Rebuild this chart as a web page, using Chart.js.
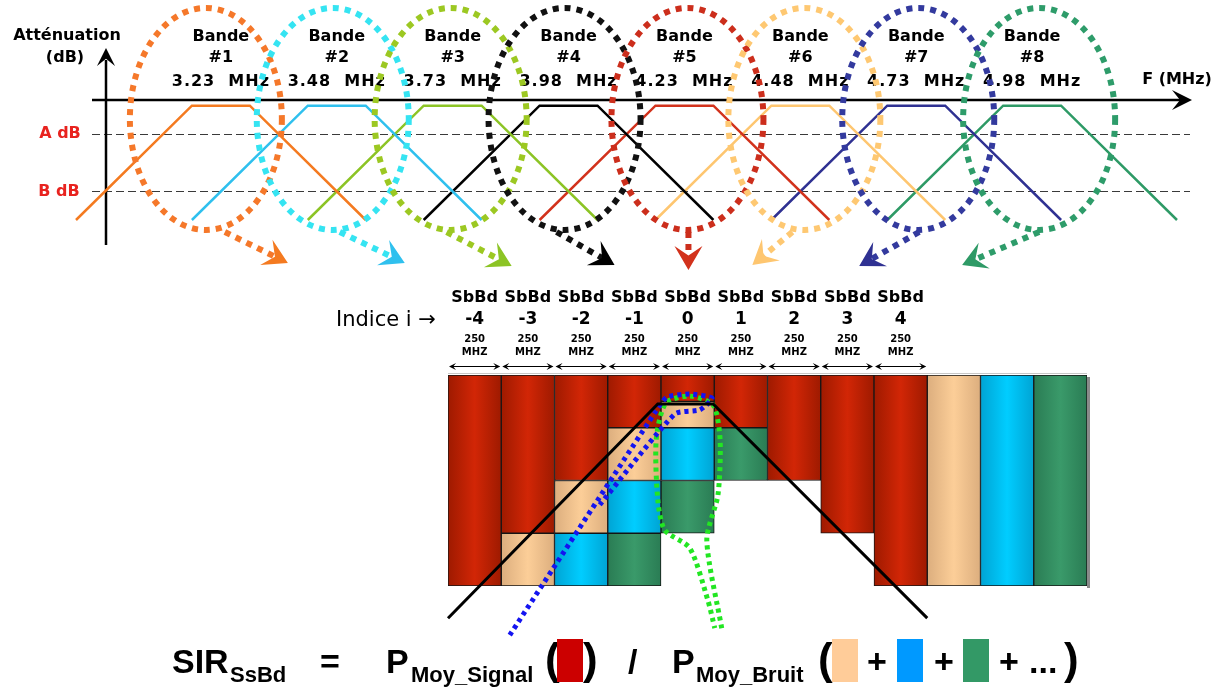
<!DOCTYPE html>
<html>
<head>
<meta charset="utf-8">
<script src="https://cdn.jsdelivr.net/npm/chart.js"></script>
<style>
html, body { margin: 0; padding: 0; background: #fff; }
#wrap { position: relative; width: 1227px; height: 688px; overflow: hidden; }
canvas { position: absolute; left: 0; top: 0; }
.f { position: absolute; font-family: 'Liberation Sans', Arial, sans-serif; font-weight: bold; white-space: nowrap; color: #000; }
.big { font-size: 34px; line-height: 34px; top: 644px; }
.sub { font-size: 22px; line-height: 22px; top: 664px; }
.par { font-size: 44px; line-height: 44px; top: 637px; }
.box { position: absolute; top: 639px; width: 26px; height: 43px; }
</style>
</head>
<body>
<div id="wrap">
<canvas id="bands" width="1227" height="688"></canvas>
<canvas id="subbands" width="1227" height="688"></canvas>

<div class="f big" style="left:172px">SIR</div>
<div class="f sub" style="left:230px">SsBd</div>
<div class="f big" style="left:320px">=</div>
<div class="f big" style="left:386px">P</div>
<div class="f sub" style="left:411px">Moy_Signal</div>
<div class="f par" style="left:545px">(</div>
<div class="box" style="left:557px;background:#cc0000"></div>
<div class="f par" style="left:583px">)</div>
<div class="f big" style="left:628px">/</div>
<div class="f big" style="left:672px">P</div>
<div class="f sub" style="left:696px">Moy_Bruit</div>
<div class="f par" style="left:818px">(</div>
<div class="box" style="left:832px;background:#ffcc99"></div>
<div class="f big" style="left:867px">+</div>
<div class="box" style="left:897px;background:#0099ff"></div>
<div class="f big" style="left:934px">+</div>
<div class="box" style="left:963px;background:#339966"></div>
<div class="f big" style="left:999px">+</div>
<div class="f big" style="left:1029px">...</div>
<div class="f par" style="left:1064px">)</div>
</div>

<script>
// ---- filter bank (top) ----
const bandNames = ['#1', '#2', '#3', '#4', '#5', '#6', '#7', '#8'];
const bandCenters = [3.23, 3.48, 3.73, 3.98, 4.23, 4.48, 4.73, 4.98]; // MHz
const filterOffsets = [-0.3125, -0.0625, 0.0625, 0.3125]; // MHz from band centre
const filterLevels = [-21, -1, -1, -21]; // dB
const levelA = -6;
const levelB = -16;

const bandColors = ['#f47a20', '#2fc0ee', '#8cc425', '#000000', '#d2321c', '#fec670', '#2f3192', '#2e9a66'];
const ringColors = ['#f5782a', '#35e4f2', '#9cc822', '#111111', '#cc2e1c', '#fec872', '#333a9e', '#2e9c6a'];

// ---- sub-bands (bottom) ----
const subBandLabels = ['-4', '-3', '-2', '-1', '0', '1', '2', '3', '4', '', '', ''];
const subBandWidth = ['250', 'MHZ'];
const signalPower = [4, 3, 2, 1, 0.5, 1, 2, 3, 4, null, null, null];
const noiseTan = [null, 1, 1, 1, 0.5, null, null, null, null, 4, null, null];
const noiseBlue = [null, null, 1, 1, 1, null, null, null, null, null, 4, null];
const noiseGreen = [null, null, null, 1, 1, 1, null, null, null, null, null, 4];

const filterX = [-0.5, 3.44, 4.48, 8.5];
const filterY = [4.61, 0.55, 0.55, 4.61];
const blueLoopX = [0.66, 3.42, 3.61, 4.04, 4.46, 4.23, 3.76, 2.35];
const blueLoopY = [4.93, 0.66, 0.42, 0.36, 0.44, 0.66, 0.74, 2.46];
const greenLoopX = [4.64, 4.36, 4.57, 4.61, 4.48, 4.04, 3.59, 3.41, 3.44, 3.57, 4.04, 4.38, 4.51];
const greenLoopY = [4.8, 3.13, 2.27, 1.23, 0.57, 0.4, 0.53, 1.23, 2.37, 2.94, 3.28, 4.27, 4.8];

function arrowHead(ctx, tx, ty, dx, dy, len, half, color) {
    const l = Math.hypot(dx, dy);
    const ux = dx / l, uy = dy / l, nx = -uy, ny = ux;
    ctx.fillStyle = color;
    ctx.beginPath();
    ctx.moveTo(tx, ty);
    ctx.lineTo(tx - ux * len + nx * half, ty - uy * len + ny * half);
    ctx.lineTo(tx - ux * len * 0.6, ty - uy * len * 0.6);
    ctx.lineTo(tx - ux * len - nx * half, ty - uy * len - ny * half);
    ctx.closePath();
    ctx.fill();
}

// per-band tweaks of the dotted rings / arrows (pixels)
const ringShift = [-15, -4, -2, -4, 3, 4, 2, 7];
const arrowStart = [4, 3, -6, -12, 4, -8, 3, 7];
const arrowTip = [67, 68, 59, 46, 4, -48, -57, -70];
const arrowTipY = [263, 263, 266, 265, 270, 265, 266, 265];

const bandDecor = {
    id: 'bandDecor',
    beforeDatasetsDraw(chart) {
        const ctx = chart.ctx, ca = chart.chartArea;
        const x = chart.scales.x, y = chart.scales.y;
        ctx.save();
        // A / B levels
        ctx.strokeStyle = '#3a3a3a';
        ctx.lineWidth = 1.2;
        ctx.setLineDash([8, 4]);
        [levelA, levelB].forEach(function (v) {
            const py = Math.round(y.getPixelForValue(v)) + 0.5;
            ctx.beginPath();
            ctx.moveTo(ca.left + 16, py);
            ctx.lineTo(ca.right + 13, py);
            ctx.stroke();
        });
        ctx.setLineDash([]);

        // axes
        const oy = y.getPixelForValue(0);
        const ox = ca.left + 30;
        ctx.strokeStyle = '#000';
        ctx.lineWidth = 2.5;
        ctx.beginPath();
        ctx.moveTo(ca.left + 16, oy);
        ctx.lineTo(ca.right + 5, oy);
        ctx.moveTo(ox, 245);
        ctx.lineTo(ox, 60);
        ctx.stroke();
        arrowHead(ctx, ca.right + 15, oy, 1, 0, 20, 10, '#000');
        arrowHead(ctx, ox, 48, 0, -1, 18, 9, '#000');

        // texts
        ctx.fillStyle = '#000';
        ctx.textAlign = 'center';
        ctx.textBaseline = 'middle';
        ctx.font = 'bold 16px "DejaVu Sans"';
        ctx.fillText('Atténuation', 67, 36);
        ctx.fillText('(dB)', 65, 58);
        ctx.fillText('F (MHz)', 1177, 80);
        ctx.fillStyle = '#e8231f';
        ctx.fillText('A dB', 60, y.getPixelForValue(levelA));
        ctx.fillText('B dB', 59, y.getPixelForValue(levelB));

        ctx.fillStyle = '#000';
        bandCenters.forEach(function (c, i) {
            const px = x.getPixelForValue(c);
            ctx.font = 'bold 16px "DejaVu Sans"';
            ctx.fillText('Bande', px, 37);
            ctx.fillText(bandNames[i], px, 58);
            ctx.letterSpacing = '1px';
            ctx.fillText(c.toFixed(2) + '  MHz', px, 82);
            ctx.letterSpacing = '0px';
        });
        ctx.restore();
    },
    afterDatasetsDraw(chart) {
        const ctx = chart.ctx;
        const x = chart.scales.x;
        ctx.save();
        bandCenters.forEach(function (c, i) {
            const px = x.getPixelForValue(c);
            // dotted ring
            ctx.strokeStyle = ringColors[i];
            ctx.lineWidth = 6;
            ctx.setLineDash([6, 6]);
            ctx.beginPath();
            ctx.ellipse(px + ringShift[i], 119, 76, 111, 0, 0, Math.PI * 2);
            ctx.stroke();
            // dotted arrow
            const sx = px + arrowStart[i], sy = 232;
            const tx = px + arrowTip[i], ty = arrowTipY[i];
            const dx = tx - sx, dy = ty - sy, l = Math.hypot(dx, dy);
            ctx.beginPath();
            ctx.moveTo(sx, sy);
            ctx.lineTo(tx - dx / l * 14, ty - dy / l * 14);
            ctx.stroke();
            ctx.setLineDash([]);
            arrowHead(ctx, tx, ty, dx, dy, 24, 14, bandColors[i]);
        });
        ctx.restore();
    }
};

new Chart(document.getElementById('bands'), {
    type: 'scatter',
    data: {
        datasets: bandCenters.map(function (c, i) {
            return {
                label: 'Bande ' + bandNames[i],
                data: filterOffsets.map(function (o, k) { return { x: c + o, y: filterLevels[k] }; }),
                showLine: true,
                borderColor: bandColors[i],
                borderWidth: 2.5,
                pointRadius: 0,
                clip: false
            };
        })
    },
    options: {
        responsive: false,
        animation: false,
        events: [],
        layout: { padding: { left: 76, right: 50, top: 100, bottom: 468 } },
        scales: {
            x: { type: 'linear', display: false,
                 min: bandCenters[0] + filterOffsets[0],
                 max: bandCenters[bandCenters.length - 1] + filterOffsets[3] },
            y: { display: false, min: filterLevels[0], max: 0 }
        },
        plugins: { legend: { display: false }, tooltip: { enabled: false } }
    },
    plugins: [bandDecor]
});

function columnShade(edge, mid) {
    return function (c) {
        const ca = c.chart.chartArea;
        if (!ca) return edge;
        const n = subBandLabels.length;
        const g = c.chart.ctx.createLinearGradient(ca.left, 0, ca.right, 0);
        for (let i = 0; i < n; i++) {
            g.addColorStop(i / n, edge);
            g.addColorStop((i + 0.5) / n, mid);
            g.addColorStop((i + 1) / n, edge);
        }
        return g;
    };
}

function pts(xs, ys) {
    return xs.map(function (v, i) { return { x: v, y: ys[i] }; });
}

const subDecor = {
    id: 'subDecor',
    beforeDatasetsDraw(chart) {
        const ctx = chart.ctx, ca = chart.chartArea;
        ctx.save();
        ctx.fillStyle = '#8a8a8a';
        ctx.fillRect(ca.right, ca.top + 2, 3, ca.bottom - ca.top);
        ctx.fillStyle = '#c8c8c8';
        ctx.fillRect(ca.left, ca.top - 2, ca.right - ca.left, 1);
        ctx.restore();
    },
    afterDraw(chart) {
        const ctx = chart.ctx, ca = chart.chartArea;
        const x = chart.scales.x;
        const w = (ca.right - ca.left) / subBandLabels.length;
        ctx.save();
        ctx.fillStyle = '#000';
        ctx.strokeStyle = '#000';
        ctx.textAlign = 'center';
        ctx.textBaseline = 'middle';
        subBandLabels.forEach(function (lab, i) {
            if (lab === '') return;
            const cx = x.getPixelForValue(i);
            ctx.font = 'bold 16px "DejaVu Sans"';
            ctx.fillText('SbBd', cx, 298);
            ctx.font = 'bold 17px "DejaVu Sans"';
            ctx.fillText(lab, cx, 320);
            ctx.font = 'bold 10px "DejaVu Sans"';
            ctx.fillText(subBandWidth[0], cx, 339);
            ctx.fillText(subBandWidth[1], cx, 352);
            const l = cx - w / 2 + 1, r = cx + w / 2 - 1, ay = 366.5;
            ctx.lineWidth = 1.2;
            ctx.beginPath();
            ctx.moveTo(l + 4, ay);
            ctx.lineTo(r - 4, ay);
            ctx.stroke();
            arrowHead(ctx, l, ay, -1, 0, 7, 3.5, '#000');
            arrowHead(ctx, r, ay, 1, 0, 7, 3.5, '#000');
        });
        ctx.textAlign = 'left';
        ctx.font = '21px "DejaVu Sans"';
        ctx.fillText('Indice i \u2192', 336, 321);
        ctx.restore();
    }
};

const barBase = {
    type: 'bar',
    borderColor: '#151515',
    borderWidth: 1,
    borderSkipped: false,
    barPercentage: 1,
    categoryPercentage: 1,
    grouped: false,
    order: 1
};

new Chart(document.getElementById('subbands'), {
    type: 'bar',
    data: {
        labels: subBandLabels,
        datasets: [
            Object.assign({ label: 'Signal', data: signalPower,
                backgroundColor: columnShade('#9e1a00', '#d22606') }, barBase),
            Object.assign({ label: 'Bruit 1', data: noiseTan,
                backgroundColor: columnShade('#dcae7e', '#fcce98') }, barBase),
            Object.assign({ label: 'Bruit 2', data: noiseBlue,
                backgroundColor: columnShade('#00a4d4', '#00cdff') }, barBase),
            Object.assign({ label: 'Bruit 3', data: noiseGreen,
                backgroundColor: columnShade('#2a7c54', '#3a9a6a') }, barBase),
            { type: 'line', label: 'Filtre', data: pts(filterX, filterY), xAxisID: 'x2', yAxisID: 'y2',
              borderColor: '#000', borderWidth: 3, pointRadius: 0, tension: 0, clip: false, order: 0 },
            { type: 'line', label: 'Bleu', data: pts(blueLoopX, blueLoopY), xAxisID: 'x2', yAxisID: 'y2',
              borderColor: '#1414f0', borderWidth: 5, borderDash: [4, 4], pointRadius: 0, tension: 0.2, clip: false, order: 0 },
            { type: 'line', label: 'Vert', data: pts(greenLoopX, greenLoopY), xAxisID: 'x2', yAxisID: 'y2',
              borderColor: '#22e622', borderWidth: 5, borderDash: [4, 4], pointRadius: 0, tension: 0.25, clip: false, order: 0 }
        ]
    },
    options: {
        responsive: false,
        animation: false,
        events: [],
        layout: { padding: { left: 448, right: 140, top: 375, bottom: 102 } },
        scales: {
            x: { display: false, stacked: true },
            y: { display: false, stacked: true, min: 0, max: 4, reverse: true },
            x2: { type: 'linear', display: false, offset: false, min: -0.5, max: subBandLabels.length - 0.5 },
            y2: { type: 'linear', display: false, offset: false, min: 0, max: 4, reverse: true }
        },
        plugins: { legend: { display: false }, tooltip: { enabled: false } }
    },
    plugins: [subDecor]
});
</script>
</body>
</html>
